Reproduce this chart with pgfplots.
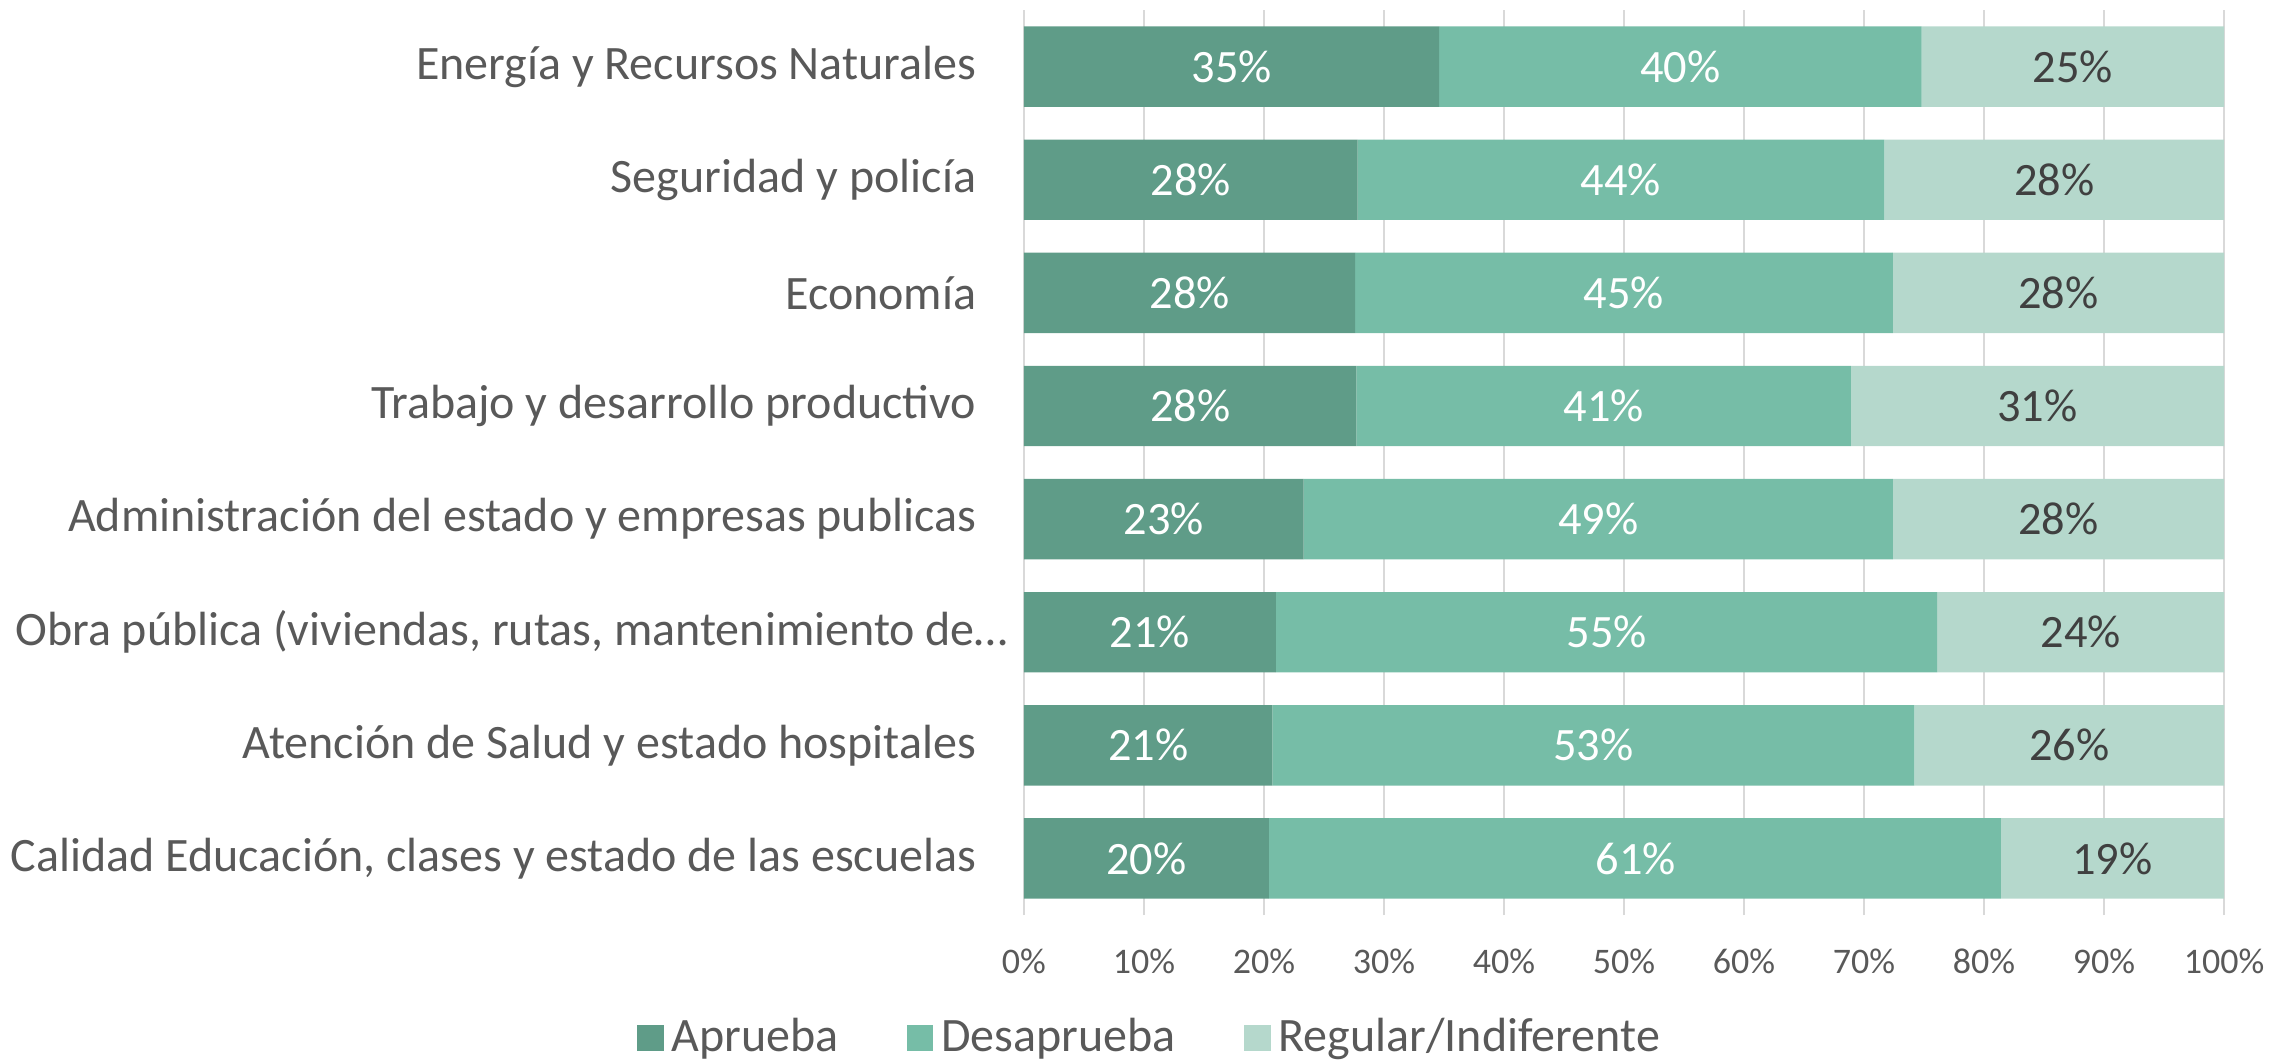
\documentclass[border=0pt]{standalone}
\usepackage{pgfplots}
\pgfplotsset{compat=1.18}
\usepackage{fontspec}
\setmainfont{Carlito}
\definecolor{cA}{HTML}{5F9C88}
\definecolor{cD}{HTML}{76BDA7}
\definecolor{cR}{HTML}{B5D8CC}
\definecolor{txt}{HTML}{595959}
\definecolor{lbl}{HTML}{404040}
\definecolor{grd}{HTML}{D9D9D9}
\begin{document}
\begin{tikzpicture}
\useasboundingbox (-256bp,-36.25bp) rectangle (311.5bp,228.75bp);
\begin{axis}[
  at={(0,0)}, anchor=south west,
  scale only axis, width=300bp, height=226.25bp,
  xbar stacked, bar width=20.1bp,
  xmin=0, xmax=100, ymin=-0.5, ymax=7.5,
  axis line style={draw=none},
  major tick length=0pt,
  xmajorgrids, grid style={grd, line width=0.6bp},
  xtick={0,10,...,100},
  xticklabels={0\%,10\%,20\%,30\%,40\%,50\%,60\%,70\%,80\%,90\%,100\%},
  xticklabel style={font=\fontsize{9bp}{10bp}\selectfont, text=txt, inner sep=0pt, yshift=-8.4bp},
  ytick={0,...,7},
  yticklabels={{Calidad Educación, clases y estado de las escuelas},
    {Atención de Salud y estado hospitales},
    {Obra pública (viviendas, rutas, mantenimiento de…\kern-8bp},
    {Administración del estado y empresas publicas},
    {Trabajo y desarrollo productivo},
    {Economía},
    {Seguridad y policía},
    {Energía y Recursos Naturales}},
  yticklabel style={font=\fontsize{12bp}{13bp}\selectfont, text=txt, inner sep=0pt, xshift=-11.75bp},
  legend columns=-1,
  legend style={draw=none, fill=none, at={(0.107,-0.136)}, anchor=center,
    font=\fontsize{12bp}{13bp}\selectfont, text=txt,
    /tikz/every even column/.append style={column sep=15bp}},
  legend image code/.code={\fill[#1] (0bp,-3.35bp) rectangle (6.7bp,3.35bp);},
]
\addplot[fill=cA, draw=none] coordinates {(20.4,0) (20.7,1) (21.0,2) (23.3,3) (27.7,4) (27.6,5) (27.8,6) (34.6,7)};
\addplot[fill=cD, draw=none] coordinates {(61.0,0) (53.5,1) (55.1,2) (49.1,3) (41.2,4) (44.8,5) (43.9,6) (40.2,7)};
\addplot[fill=cR, draw=none] coordinates {(18.6,0) (25.8,1) (23.9,2) (27.6,3) (31.1,4) (27.6,5) (28.3,6) (25.2,7)};
\legend{Aprueba, Desaprueba, Regular/Indiferente}
\end{axis}
\begin{axis}[
  at={(0,0)}, anchor=south west,
  scale only axis, width=300bp, height=226.25bp,
  xmin=0, xmax=100, ymin=-0.5, ymax=7.5,
  hide axis,
  point meta=explicit symbolic,
  nodes near coords,
  every node near coord/.append style={anchor=center, inner sep=0pt, font=\fontsize{11.6bp}{13bp}\selectfont},
]
\addplot[only marks, mark=none, every node near coord/.append style={text=white}] coordinates {
  (10.2,0) [20\%] (10.35,1) [21\%] (10.5,2) [21\%] (11.65,3) [23\%]
  (13.85,4) [28\%] (13.8,5) [28\%] (13.9,6) [28\%] (17.3,7) [35\%]};
\addplot[only marks, mark=none, every node near coord/.append style={text=white}] coordinates {
  (51.0,0) [61\%] (47.45,1) [53\%] (48.55,2) [55\%] (47.85,3) [49\%]
  (48.3,4) [41\%] (50.0,5) [45\%] (49.75,6) [44\%] (54.7,7) [40\%]};
\addplot[only marks, mark=none, every node near coord/.append style={text=lbl}] coordinates {
  (90.7,0) [19\%] (87.1,1) [26\%] (88.05,2) [24\%] (86.2,3) [28\%]
  (84.45,4) [31\%] (86.2,5) [28\%] (85.85,6) [28\%] (87.4,7) [25\%]};
\end{axis}
\end{tikzpicture}
\end{document}
